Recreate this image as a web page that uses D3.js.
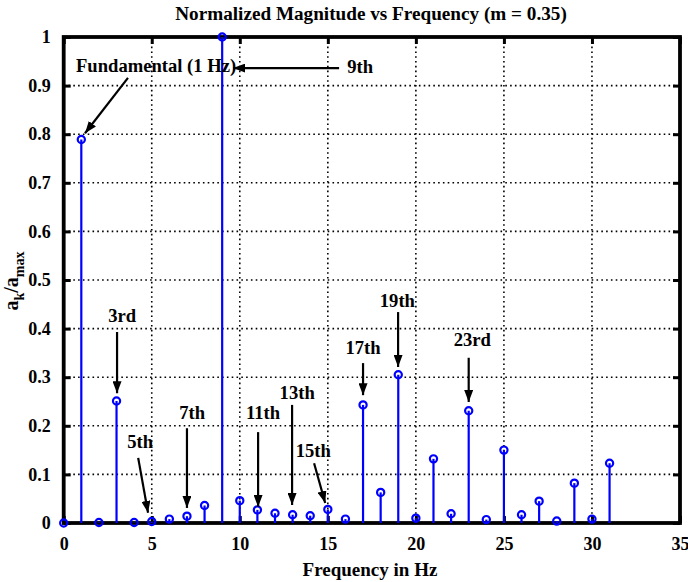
<!DOCTYPE html>
<html><head><meta charset="utf-8">
<script src="https://cdn.jsdelivr.net/npm/d3@7"></script>
<style>
html,body{margin:0;padding:0;background:#fff;}
text{font-family:"Liberation Serif","Times New Roman",serif;font-weight:bold;fill:#000;}
</style></head>
<body><svg id="c" width="688" height="582"></svg>
<script>
// ---- data ----
const freqs = [0,1,2,3,4,5,6,7,8,9,10,11,12,13,14,15,16,17,18,19,20,21,22,23,24,25,26,27,28,29,30,31];
const mags  = [0,0.789,0.001,0.251,0.001,0.003,0.008,0.014,0.036,1.0,0.046,0.027,0.020,0.017,0.015,0.028,0.008,0.243,0.063,0.305,0.010,0.132,0.019,0.231,0.007,0.150,0.017,0.045,0.004,0.082,0.008,0.123];
const xTicks = [0,5,10,15,20,25,30,35];
const yTicks = [0,0.1,0.2,0.3,0.4,0.5,0.6,0.7,0.8,0.9,1];
const yTickLabels = ["0","0.1","0.2","0.3","0.4","0.5","0.6","0.7","0.8","0.9","1"];
const annLabels = ["Fundamental (1 Hz)","9th","3rd","5th","7th","11th","13th","15th","17th","19th","23rd"];
const annTextX  = [0.70,16.1,3.32,4.34,7.29,11.32,13.26,14.17,17.0,18.95,23.2];
const annTextY  = [0.928,0.926,0.414,0.154,0.214,0.214,0.255,0.136,0.348,0.444,0.364];
const annAnchor = ["start","start","middle","middle","middle","middle","middle","middle","middle","middle","middle"];
const arrX0 = [3.65,15.64,3.03,4.23,7.0,11.04,12.97,14.22,17.0,18.99,23.0];
const arrY0 = [0.916,0.936,0.393,0.134,0.195,0.187,0.243,0.123,0.329,0.434,0.340];
const arrX1 = [1.21,9.62,3.03,4.79,7.0,11.04,12.97,14.85,17.0,18.99,23.0];
const arrY1 = [0.802,0.936,0.267,0.021,0.031,0.033,0.037,0.041,0.263,0.321,0.249];
const title = "Normalized Magnitude vs Frequency (m = 0.35)";
const xLabel = "Frequency in Hz";

// ---- layout ----
const L = 63.7, R = 680, T = 37, B = 523;
const x = d3.scaleLinear().domain([0,35]).range([L,R]);
const y = d3.scaleLinear().domain([0,1]).range([B,T]);
const svg = d3.select("#c");

svg.append("defs").append("marker")
  .attr("id","ah").attr("markerUnits","userSpaceOnUse")
  .attr("viewBox","0 0 12 9").attr("refX",12).attr("refY",4.5)
  .attr("markerWidth",12).attr("markerHeight",9).attr("orient","auto")
  .append("path").attr("d","M0,0 L12,4.5 L0,9 Z").attr("fill","#000");

// grid
const g = svg.append("g");
g.selectAll(".gx").data(xTicks.filter(d=>d>0&&d<35)).enter().append("line")
  .attr("x1",d=>x(d)).attr("x2",d=>x(d)).attr("y1",T).attr("y2",B)
  .attr("stroke","#000").attr("stroke-width",1.6).attr("stroke-dasharray","1.6,3.2");
g.selectAll(".gy").data(yTicks.filter(d=>d>0&&d<1)).enter().append("line")
  .attr("x1",L).attr("x2",R).attr("y1",d=>y(d)).attr("y2",d=>y(d))
  .attr("stroke","#000").attr("stroke-width",1.6).attr("stroke-dasharray","1.6,3.2");

// axes with inward ticks
const axB = d3.axisBottom(x).tickValues(xTicks).tickSize(-7).tickPadding(14).tickFormat(d3.format("d"));
const axT = d3.axisTop(x).tickValues(xTicks).tickSize(-7).tickFormat("");
const axL = d3.axisLeft(y).tickValues(yTicks).tickSize(-7).tickPadding(13).tickFormat((d,i)=>yTickLabels[i]);
const axR = d3.axisRight(y).tickValues(yTicks).tickSize(-7).tickFormat("");
function style(sel){
  sel.select(".domain").remove();
  sel.selectAll(".tick line").attr("stroke","#000").attr("stroke-width",3);
  sel.selectAll(".tick text").attr("font-size",18).attr("fill","#000")
     .style("font-family","'Liberation Serif',serif").style("font-weight","bold");
}
svg.append("g").attr("transform",`translate(0,${B})`).call(axB).call(style);
svg.append("g").attr("transform",`translate(0,${T})`).call(axT).call(style);
svg.append("g").attr("transform",`translate(${L},0)`).call(axL).call(style);
svg.append("g").attr("transform",`translate(${R},0)`).call(axR).call(style);

// stems
const stems = svg.append("g");
const pts = freqs.map((f,i)=>({f, v:mags[i]}));
stems.selectAll("line").data(pts).enter().append("line")
  .attr("x1",d=>x(d.f)).attr("x2",d=>x(d.f)).attr("y1",y(0)).attr("y2",d=>y(d.v))
  .attr("stroke","#0000ff").attr("stroke-width",2.2);

// box
svg.append("rect").attr("x",L).attr("y",T).attr("width",R-L).attr("height",B-T)
  .attr("fill","none").attr("stroke","#000").attr("stroke-width",3.8);

stems.raise();
stems.selectAll("circle").data(pts).enter().append("circle")
  .attr("cx",d=>x(d.f)).attr("cy",d=>y(d.v)).attr("r",3.6)
  .attr("fill","none").attr("stroke","#0000ff").attr("stroke-width",2.2);

// annotations
const ann = svg.append("g");
annLabels.forEach((t,i)=>{
  ann.append("line")
    .attr("x1",x(arrX0[i])).attr("y1",y(arrY0[i]))
    .attr("x2",x(arrX1[i])).attr("y2",y(arrY1[i]))
    .attr("stroke","#000").attr("stroke-width",2.2).attr("marker-end","url(#ah)");
  ann.append("text").attr("x",x(annTextX[i])).attr("y",y(annTextY[i]))
    .attr("text-anchor",annAnchor[i]).attr("font-size",18.6).text(t);
});

// title and labels
svg.append("text").attr("x",371).attr("y",20).attr("text-anchor","middle")
  .attr("font-size",19.2).text(title);
svg.append("text").attr("x",370).attr("y",576).attr("text-anchor","middle")
  .attr("font-size",19).text(xLabel);
const yl = svg.append("text").attr("transform","translate(18,281) rotate(-90)")
  .attr("text-anchor","middle").attr("font-size",20);
yl.append("tspan").text("a");
yl.append("tspan").attr("dy",6).attr("font-size",14).text("k");
yl.append("tspan").attr("dy",-6).text("/a");
yl.append("tspan").attr("dy",6).attr("font-size",14).text("max");
</script></body></html>
